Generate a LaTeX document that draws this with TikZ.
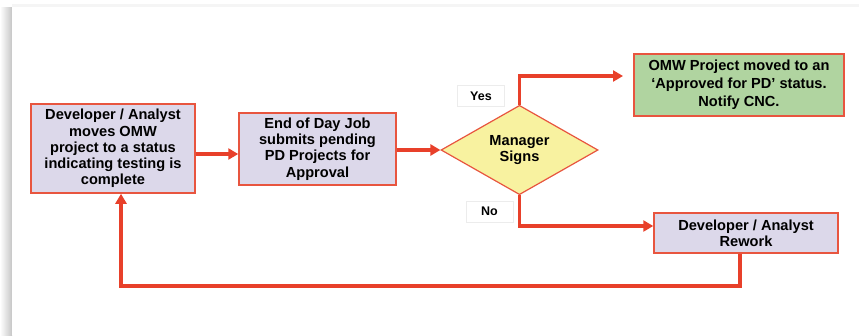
\documentclass[tikz,border=0pt]{standalone}
\usepackage{fontspec}
\setmainfont{Liberation Sans}
\usetikzlibrary{arrows.meta,shapes.geometric,positioning}
\definecolor{boxred}{HTML}{E8553F}
\definecolor{linered}{HTML}{E8402A}
\definecolor{lavender}{HTML}{DCD8EA}
\definecolor{sage}{HTML}{B0D4A0}
\definecolor{lemon}{HTML}{F8F2A0}
\tikzset{
  basic/.style    = {draw=boxred, line width=1.5pt, align=center, inner sep=0pt,
                     font=\bfseries\fontsize{14.6}{16.2}\selectfont, rectangle},
  process/.style  = {basic, fill=lavender},
  outcome/.style  = {basic, fill=sage, font=\bfseries\fontsize{14.6}{18}\selectfont},
  decision/.style = {basic, diamond, fill=lemon, line width=1.2pt},
  answer/.style   = {draw=gray!15, fill=white, inner sep=0pt, minimum width=47pt,
                     minimum height=21pt, font=\bfseries\fontsize{12.5}{14}\selectfont},
  flow/.style     = {draw=linered, line width=3.2pt, -{Triangle[length=10pt,width=11pt]}}
}

\begin{document}
\begin{tikzpicture}[x=1pt,y=-1pt]
\useasboundingbox (0,0) rectangle (859,335);
% slide panel with its shadow
\shade[left color=white, right color=gray!45] (0,7) rectangle (12,335);
\fill[gray!8] (12,4) rectangle (859,7);
\fill[white] (12,7) rectangle (859,335);

\node[process, minimum width=164pt, minimum height=89pt] (dev) at (113,148.5)
  {Developer / Analyst\\moves OMW\\project to a status\\indicating testing is\\complete};
\node[process, minimum width=157pt, minimum height=72pt] (eod) at (317.5,149)
  {End of Day Job\\submits pending\\PD Projects for\\Approval};
\node[decision, minimum width=157pt, minimum height=78pt] (sign) at (519.5,150)
  {Manager\\Signs};
\node[outcome, minimum width=210pt, minimum height=62pt] (ok) at (739,85)
  {OMW Project moved to an\\`Approved for PD' status.\\Notify CNC.};
\node[process, minimum width=184pt, minimum height=40pt] (rework) at (746,233)
  {Developer / Analyst\\Rework};
\node[answer] (yes) at (481,96) {Yes};
\node[answer] (no) at (489.5,211.5) {No};

\coordinate (okin) at (623,76);
\coordinate (reworkin) at (rework.west |- 0,226);
\coordinate (back) at (740,286);

\draw[flow] (dev.east |- 0,154) -- (eod.west |- 0,154);
\draw[flow] (eod.east |- 0,150) -- (sign.west);
\draw[flow] (sign.north) |- (okin);
\draw[flow] (sign.south) |- (reworkin);
\draw[flow] (rework.south -| back) -- (back) -| (dev.south -| 121,0);
\end{tikzpicture}
\end{document}
